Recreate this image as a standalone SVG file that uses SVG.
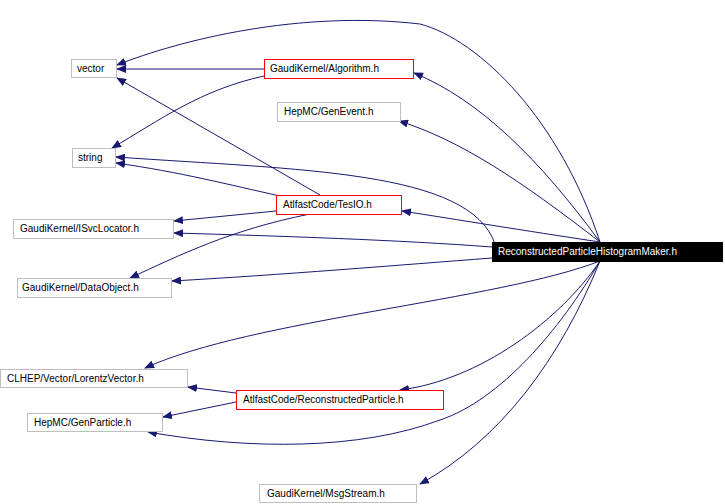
<svg xmlns="http://www.w3.org/2000/svg" width="725" height="504" viewBox="0 0 725 504">
<style>
.n rect{fill:#fff;stroke:#bfbfbf;stroke-width:1}
.r rect{stroke:#ff0000}
text{font-family:"Liberation Sans",Arial,sans-serif;font-size:10px;fill:#000}
.e path{fill:none;stroke:#191970;stroke-width:1}
</style>
<defs><marker id="a" markerWidth="10" markerHeight="8" refX="9" refY="4" orient="auto" markerUnits="userSpaceOnUse"><path d="M0,0L10,4L0,8z" fill="#191970"/></marker></defs>
<rect width="725" height="504" fill="#fff"/>
<g class="e" marker-end="url(#a)">
<path d="M600,242C560,120 480,40 420,24C300,10 180,40 117,65" marker-end="url(#a)"/>
<path d="M600,242C540,160 480,100 414,73" marker-end="url(#a)"/>
<path d="M600,242C520,180 460,140 399,121" marker-end="url(#a)"/>
<path d="M495,244C470,170 300,170 116,157" marker-end="url(#a)"/>
<path d="M600,242C520,230 460,220 402,211" marker-end="url(#a)"/>
<path d="M492,247C400,240 280,236 174,233" marker-end="url(#a)"/>
<path d="M492,258C400,265 280,275 172,281" marker-end="url(#a)"/>
<path d="M600,261C500,300 250,320 145,368" marker-end="url(#a)"/>
<path d="M600,261C560,320 480,380 400,390" marker-end="url(#a)"/>
<path d="M600,261C560,330 500,400 440,420C360,450 250,450 148,432" marker-end="url(#a)"/>
<path d="M600,261C560,360 500,440 420,484" marker-end="url(#a)"/>
<path d="M264,69L117,69" marker-end="url(#a)"/>
<path d="M264,76C200,90 160,120 112,148" marker-end="url(#a)"/>
<path d="M320,195L117,78" marker-end="url(#a)"/>
<path d="M280,196C230,185 180,172 116,163" marker-end="url(#a)"/>
<path d="M276,211L174,221" marker-end="url(#a)"/>
<path d="M310,214C230,230 180,255 130,278" marker-end="url(#a)"/>
<path d="M236,393L188,387" marker-end="url(#a)"/>
<path d="M236,402L163,417" marker-end="url(#a)"/>
</g>
<g id="vector" class="n"><rect x="71.5" y="59.5" width="45" height="18"/><text x="77" y="72">vector</text></g>
<g id="algorithm" class="n r"><rect x="264.5" y="59.5" width="149" height="19"/><text x="270" y="72">GaudiKernel/Algorithm.h</text></g>
<g id="genevent" class="n"><rect x="277.5" y="102.5" width="123" height="19"/><text x="284" y="115">HepMC/GenEvent.h</text></g>
<g id="string" class="n"><rect x="72.5" y="148.5" width="43" height="19"/><text x="78" y="161">string</text></g>
<g id="tesio" class="n r"><rect x="276.5" y="195.5" width="125" height="19"/><text x="283" y="208">AtlfastCode/TesIO.h</text></g>
<g id="isvc" class="n"><rect x="13.5" y="219.5" width="160" height="19"/><text x="20" y="232">GaudiKernel/ISvcLocator.h</text></g>
<g id="main"><rect x="492.5" y="242.5" width="230" height="19" fill="#000" stroke="#000"/><text x="498" y="255" style="fill:#fff">ReconstructedParticleHistogramMaker.h</text></g>
<g id="dataobject" class="n"><rect x="17.5" y="278.5" width="154" height="19"/><text x="22" y="291">GaudiKernel/DataObject.h</text></g>
<g id="lorentz" class="n"><rect x="0.5" y="369.5" width="187" height="18"/><text x="7" y="382">CLHEP/Vector/LorentzVector.h</text></g>
<g id="recpart" class="n r"><rect x="236.5" y="390.5" width="207" height="19"/><text x="243" y="403">AtlfastCode/ReconstructedParticle.h</text></g>
<g id="genparticle" class="n"><rect x="27.5" y="413.5" width="135" height="18"/><text x="34" y="426">HepMC/GenParticle.h</text></g>
<g id="msgstream" class="n"><rect x="259.5" y="484.5" width="157" height="18"/><text x="267" y="497">GaudiKernel/MsgStream.h</text></g>
</svg>
